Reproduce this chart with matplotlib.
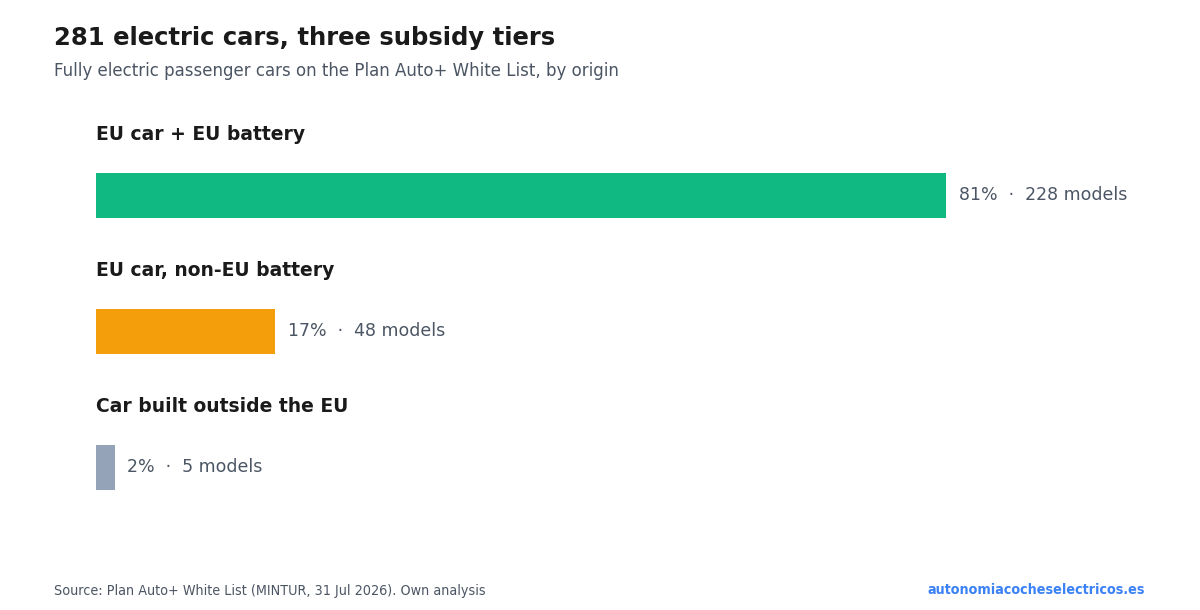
import matplotlib
matplotlib.use("Agg")
import matplotlib.pyplot as plt

categories = ["EU car + EU battery", "EU car, non-EU battery", "Car built outside the EU"]
models = [228, 48, 5]
percent_labels = ["81%", "17%", "2%"]
colors = ["#10b981", "#f59e0b", "#94a3b8"]
total = 281

W, H = 1200, 610
fig = plt.figure(figsize=(12, 6.1), dpi=100)
plt.rcParams['font.family'] = ['DejaVu Sans']

def fx(px):
    return px / W

def fy(py):
    return 1 - py / H

x0, x1 = 96, 1144
ytop, ybot = 110, 520
ax = fig.add_axes([fx(x0), fy(ybot), fx(x1 - x0), (ybot - ytop) / H])
spacing = 136.0
top_val = -(195.5 - ytop) / spacing
bot_val = (ybot - 195.5) / spacing
ax.set_xlim(0, 100)
ax.set_ylim(bot_val, top_val)
ax.axis("off")

pcts = [m / total * 100 for m in models]
ypos = list(range(len(categories)))
ax.barh(ypos, pcts, height=45 / spacing, color=colors, left=0)

for y, cat, p, pl, m in zip(ypos, categories, pcts, percent_labels, models):
    ax.text(0, y - (195.5 - 134.5) / spacing, cat, ha="left", va="center",
            fontsize=13.5, fontweight="bold", color="#1a1a1a")
    ax.text(p + 12.5 / 10.48, y, f"{pl}  ·  {m} models", ha="left", va="center",
            fontsize=12.55, color="#4b5563")

fig.text(fx(54), fy(37.5), "281 electric cars, three subsidy tiers", ha="left", va="center",
         fontsize=17.5, fontweight="bold", color="#1a1a1a")
fig.text(fx(54), fy(71.5), "Fully electric passenger cars on the Plan Auto+ White List, by origin",
         ha="left", va="center", fontsize=11.95, color="#4b5563")
fig.text(fx(54), fy(590.5), "Source: Plan Auto+ White List (MINTUR, 31 Jul 2026). Own analysis",
         ha="left", va="center", fontsize=10.25, fontstretch="condensed", color="#4b5563")
fig.text(fx(1145), fy(590.5), "autonomiacocheselectricos.es", ha="right", va="center",
         fontsize=10.3, fontstretch="condensed", fontweight="bold", color="#3b82f6")

fig.savefig("out.png", dpi=100, facecolor="white")
